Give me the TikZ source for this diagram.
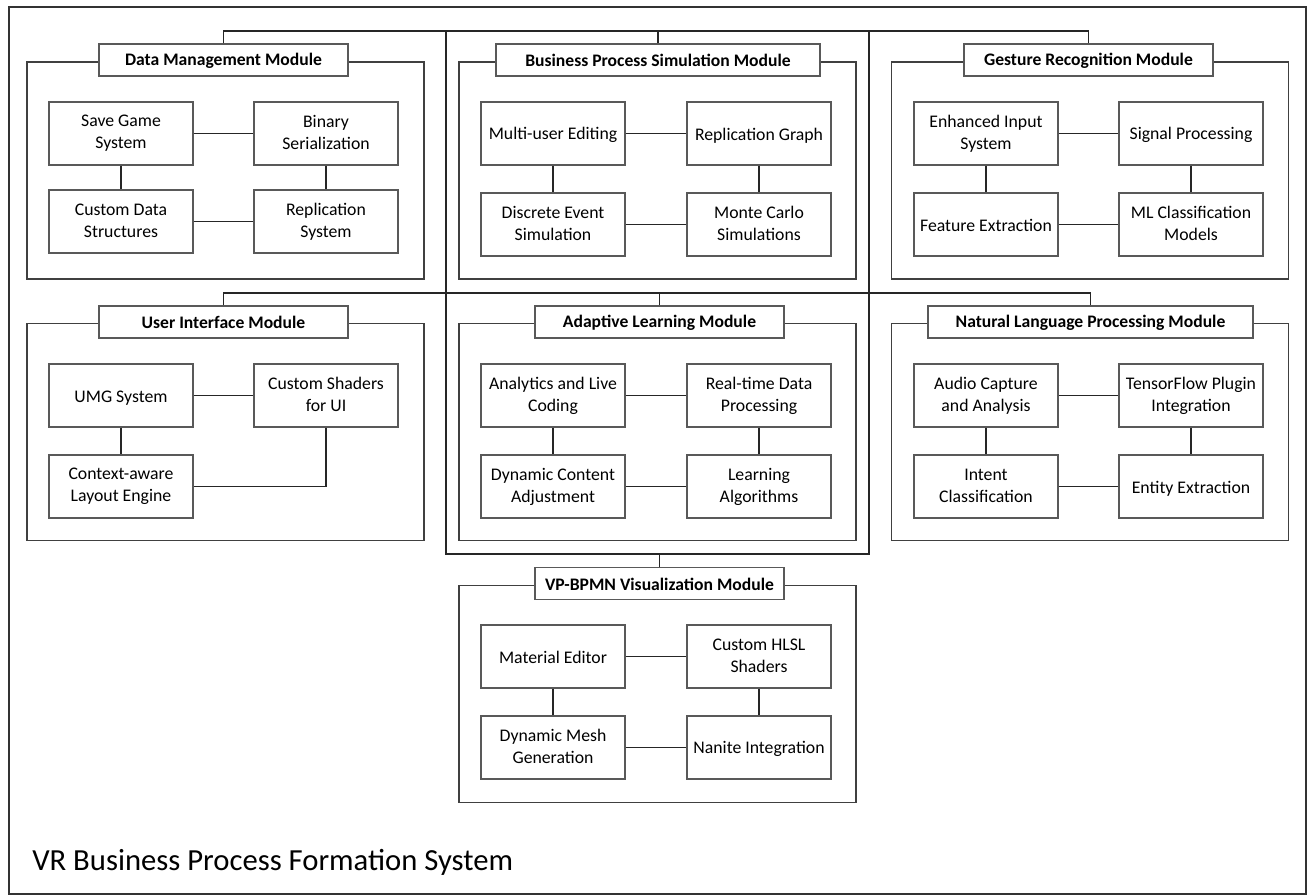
\documentclass[tikz,border=0pt]{standalone}
\usepackage{fontspec}
\setmainfont{Carlito}
\newcommand{\cstrut}{\rule[-1.6pt]{0pt}{13.6pt}}
\newcommand{\tstrut}{\rule[-0.6pt]{0pt}{11.6pt}}
\begin{document}
\begin{tikzpicture}[x=0.75pt,y=-0.75pt,
  frame/.style={draw=black!75,line width=1.1pt,minimum width=297.75pt,minimum height=162.75pt,inner sep=0pt},
  ttl/.style={draw=black!65,fill=white,line width=1.1pt,minimum height=24pt,inner sep=0pt,font=\fontsize{13.2}{15}\selectfont\bfseries,execute at begin node=\tstrut},
  comp/.style={draw=black!65,fill=white,line width=1.1pt,minimum width=108pt,minimum height=47.25pt,inner sep=1pt,align=center,font=\fontsize{13.3}{16.5}\selectfont,execute at begin node=\cstrut,execute at end node=\cstrut},
  link/.style={draw=black!85,line width=0.9pt},
  bus/.style={draw=black!85,line width=1pt}]
\useasboundingbox (0,0) rectangle (1307,895);
\node[draw=black!80,line width=1pt,minimum width=972.75pt,minimum height=665.25pt,inner sep=0pt] (outer) at (657.5,450.5) {};
% big container
\node[draw=black!85,line width=1pt,minimum width=317.25pt,minimum height=392.25pt,inner sep=0pt] (big) at (657.5,292.5) {};
\coordinate (bus1) at (658,31);
\coordinate (bus2) at (658,293);

% ---------- Data Management ----------
\node[frame] (dmF) at (225.5,170.5) {};
\node[ttl,minimum width=186.75pt] (dmT) at (223.5,60) {Data Management Module};
\node[comp] (dm1) at (121,133.5) {Save Game\\System};
\node[comp] (dm2) at (326,133.5) {Binary\\Serialization};
\node[comp] (dm3) at (121,221.5) {Custom Data\\Structures};
\node[comp] (dm4) at (326,221.5) {Replication\\System};
\draw[link] (dm1) -- (dm2); \draw[link] (dm1) -- (dm3);
\draw[link] (dm2) -- (dm4); \draw[link] (dm3) -- (dm4);

% ---------- Business Process Simulation ----------
\node[frame] (bpF) at (657.5,170.5) {};
\node[ttl,minimum width=243pt] (bpT) at (658,60) {Business Process Simulation Module};
\node[comp] (bp1) at (553,133.5) {Multi-user Editing};
\node[comp] (bp2) at (759,133.5) {Replication Graph};
\node[comp] (bp3) at (553,224.5) {Discrete Event\\Simulation};
\node[comp] (bp4) at (759,224.5) {Monte Carlo\\Simulations};
\draw[link] (bp1) -- (bp2); \draw[link] (bp1) -- (bp3);
\draw[link] (bp2) -- (bp4); \draw[link] (bp3) -- (bp4);

% ---------- Gesture Recognition ----------
\node[frame] (grF) at (1090,170.5) {};
\node[ttl,minimum width=186.75pt] (grT) at (1088.5,60) {Gesture Recognition Module};
\node[comp] (gr1) at (986,133.5) {Enhanced Input\\System};
\node[comp] (gr2) at (1191,133.5) {Signal Processing};
\node[comp] (gr3) at (986,224.5) {Feature Extraction};
\node[comp] (gr4) at (1191,224.5) {ML Classification\\Models};
\draw[link] (gr1) -- (gr2); \draw[link] (gr1) -- (gr3);
\draw[link] (gr2) -- (gr4); \draw[link] (gr3) -- (gr4);

% ---------- User Interface ----------
\node[frame] (uiF) at (225.5,432) {};
\node[ttl,minimum width=186.75pt] (uiT) at (223.5,322) {User Interface Module};
\node[comp] (ui1) at (121,395.5) {UMG System};
\node[comp] (ui2) at (326,395.5) {Custom Shaders\\for UI};
\node[comp] (ui3) at (121,486.5) {Context-aware\\Layout Engine};
\draw[link] (ui1) -- (ui2); \draw[link] (ui1) -- (ui3);
\draw[link] (ui2.south) |- (ui3.east);

% ---------- Adaptive Learning ----------
\node[frame] (alF) at (657.5,432) {};
\node[ttl,minimum width=186.75pt] (alT) at (659.5,322) {Adaptive Learning Module};
\node[comp] (al1) at (553,395.5) {Analytics and Live\\Coding};
\node[comp] (al2) at (759,395.5) {Real-time Data\\Processing};
\node[comp] (al3) at (553,486.5) {Dynamic Content\\Adjustment};
\node[comp] (al4) at (759,486.5) {Learning\\Algorithms};
\draw[link] (al1) -- (al2); \draw[link] (al1) -- (al3);
\draw[link] (al2) -- (al4); \draw[link] (al3) -- (al4);

% ---------- Natural Language Processing ----------
\node[frame] (nlF) at (1090,432) {};
\node[ttl,minimum width=243.75pt] (nlT) at (1090.5,322) {Natural Language Processing Module};
\node[comp] (nl1) at (986,395.5) {Audio Capture\\and Analysis};
\node[comp] (nl2) at (1191,395.5) {TensorFlow Plugin\\Integration};
\node[comp] (nl3) at (986,486.5) {Intent\\Classification};
\node[comp] (nl4) at (1191,486.5) {Entity Extraction};
\draw[link] (nl1) -- (nl2); \draw[link] (nl1) -- (nl3);
\draw[link] (nl2) -- (nl4); \draw[link] (nl3) -- (nl4);

% ---------- VP-BPMN Visualization ----------
\node[frame] (vpF) at (657.5,694) {};
\node[ttl,minimum width=186.75pt] (vpT) at (659.5,583.5) {VP-BPMN Visualization Module};
\node[comp] (vp1) at (553,656.5) {Material Editor};
\node[comp] (vp2) at (759,656.5) {Custom HLSL\\Shaders};
\node[comp] (vp3) at (553,747.5) {Dynamic Mesh\\Generation};
\node[comp] (vp4) at (759,747.5) {Nanite Integration};
\draw[link] (vp1) -- (vp2); \draw[link] (vp1) -- (vp3);
\draw[link] (vp2) -- (vp4); \draw[link] (vp3) -- (vp4);

% ---------- buses ----------
\draw[bus] (dmT.north) |- (bus1) -| (grT.north);
\draw[bus] (bpT.north) -- (bpT.north |- bus1);
\draw[bus] (uiT.north) |- (bus2) -| (nlT.north);
\draw[bus] (alT.north) -- (alT.north |- bus2);
\draw[bus] (big.south -| vpT.north) -- (vpT.north);

\node[anchor=west,inner sep=0pt,font=\fontsize{23}{26}\selectfont] (title) at (32,862) {VR Business Process Formation System};
\end{tikzpicture}
\end{document}
